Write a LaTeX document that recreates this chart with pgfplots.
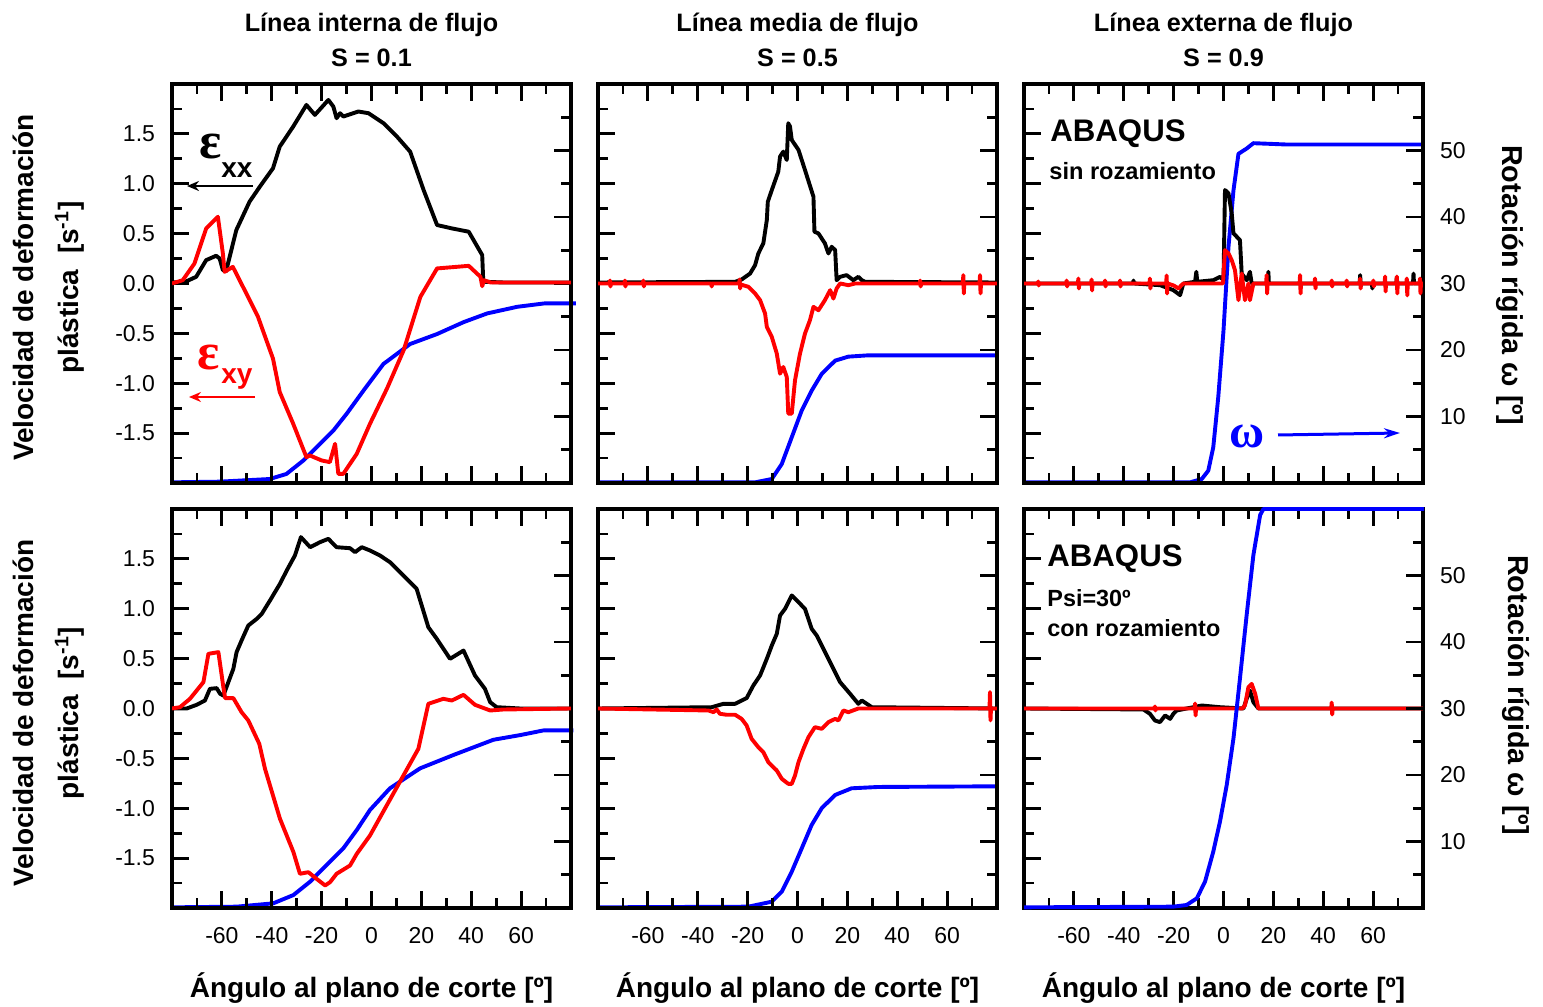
\documentclass[border=0pt]{standalone}
\usepackage{fontspec}
\setmainfont{Liberation Sans}
\newfontfamily\serifgreek{Liberation Serif}
\usepackage{pgfplots}
\pgfplotsset{compat=1.18}
\usetikzlibrary{arrows.meta}
\newcommand\tickfont{\fontsize{11.5}{12}\selectfont}
\pgfplotsset{
  panel/.style={scale only axis, width=199.5pt, height=199.5pt, anchor=south west,
    xmin=-80, xmax=80, tick align=inside,
    major tick length=8.5pt, minor tick length=5pt,
    every tick/.style={line width=1.4pt, black},
    every minor tick/.style={line width=1.4pt, black},
    axis line style={line width=1.7pt},
    tick label style={font=\tickfont},
    /pgf/number format/assume math mode=true},
  mainax/.style={panel, ymin=-2, ymax=2,
    xtick={-60,-40,-20,0,20,40,60}, minor xtick={-70,-50,-30,-10,10,30,50,70},
    ytick={-1.5,-1,-0.5,0,0.5,1,1.5}, minor ytick={-1.75,-1.25,-0.75,-0.25,0.25,0.75,1.25,1.75},
    xtick pos=both, ytick pos=left,
    xticklabel style={yshift=-6pt},
    yticklabel style={xshift=-5pt, /pgf/number format/.cd, fixed, fixed zerofill, precision=1}},
  omegaax/.style={panel, ymin=0, ymax=60, clip=false,
    xtick=\empty, ytick={10,20,30,40,50}, minor ytick={5,15,25,35,45,55},
    ytick pos=right, axis line style={draw=none},
    yticklabel style={xshift=5pt}},
  bl/.style={black, line width=1.95pt, line join=round},
  rl/.style={red, line width=1.95pt, line join=round},
  wl/.style={blue, line width=1.95pt, line join=round},
}
\begin{document}
\begin{tikzpicture}[x=1pt,y=1pt]
\path[use as bounding box] (0,0) rectangle (771.5,503.5);

% ================= TOP LEFT =================
\begin{axis}[omegaax, at={(86pt,262pt)}, yticklabels={}]
\addplot[wl] coordinates {(-80,0.1) (-60.9,0.2) (-40.8,0.6) (-34.1,1.36) (-27.4,3.36) (-20.7,5.87) (-15.3,7.88) (-10.0,10.39) (-3.2,13.9) (4.8,17.9) (15.5,20.9) (26.3,22.4) (37.0,24.2) (46.4,25.5) (58.5,26.5) (69.2,27.0) (82,27.0)};
\end{axis}
\begin{axis}[mainax, at={(86pt,262pt)}, xticklabels={}]
\addplot[bl] coordinates {(-80,0.01) (-74.4,0.02) (-70.3,0.067) (-66.3,0.234) (-62.3,0.278) (-60.9,0.251) (-59.6,0.134) (-58.3,0.124) (-56.2,0.335) (-54.2,0.536) (-48.9,0.82) (-44.8,0.97) (-39.5,1.155) (-36.8,1.372) (-31.4,1.573) (-26.1,1.79) (-22.7,1.69) (-17.3,1.84) (-15.3,1.774) (-14.0,1.657) (-12.6,1.707) (-11.3,1.674) (-5.3,1.724) (-1.2,1.707) (4.8,1.607) (10.2,1.473) (15.5,1.322) (20.9,0.937) (26.3,0.586) (32.3,0.552) (39.0,0.519) (44.4,0.285) (44.8,0.033) (45.7,0.017) (53.1,0.01) (80,0.01)};
\addplot[rl] coordinates {(-80,0) (-75.7,0.033) (-71.0,0.2) (-66.3,0.552) (-61.6,0.669) (-59.6,0.301) (-58.9,0.117) (-55.6,0.167) (-49.5,-0.134) (-45.5,-0.335) (-39.5,-0.753) (-36.8,-1.088) (-31.4,-1.406) (-26.1,-1.741) (-24.7,-1.724) (-20.0,-1.774) (-16.7,-1.791) (-14.6,-1.607) (-13.3,-1.908) (-11.3,-1.908) (-5.9,-1.707) (-0.6,-1.406) (6.2,-1.054) (12.9,-0.669) (19.6,-0.134) (26.3,0.151) (39.0,0.177) (43.7,0.067) (44.4,-0.027) (45.1,0.033) (47.8,0.01) (80,0.01)};
\end{axis}

% ================= TOP MIDDLE =================
\begin{axis}[omegaax, at={(299pt,262pt)}, yticklabels={}]
\addplot[wl] coordinates {(-80,0.1) (-17.0,0.1) (-10.3,0.6) (-6.3,2.86) (-2.3,6.88) (1.7,10.9) (5.7,13.9) (9.7,16.4) (15.1,18.4) (20.4,19.0) (28.4,19.2) (80.6,19.2)};
\end{axis}
\begin{axis}[mainax, at={(299pt,262pt)}, yticklabels={}, xticklabels={}]
\addplot[bl] coordinates {(-80,0.01) (-25.0,0.017) (-22.4,0.04) (-19.0,0.1) (-17.0,0.184) (-15.7,0.301) (-13.7,0.402) (-12.3,0.636) (-11.9,0.82) (-10.3,0.937) (-7.7,1.121) (-7.0,1.272) (-5.7,1.322) (-4.3,1.238) (-3.7,1.607) (-3.0,1.573) (-2.3,1.439) (0.4,1.339) (3.0,1.138) (6.4,0.87) (6.8,0.519) (8.4,0.502) (11.0,0.402) (12.4,0.301) (13.7,0.368) (15.1,0.335) (15.7,0.033) (17.1,0.067) (19.7,0.084) (22.4,0.033) (24.4,0.067) (25.8,0.033) (27.1,0.017) (80,0.01)};
\addplot[rl] coordinates {(-80,0) (-75.4,0) (-75.2,0.03) (-75.0,-0.03) (-74.8,0) (-69.4,0) (-69.2,0.03) (-69.0,-0.03) (-68.8,0) (-62,0) (-61.8,0.03) (-61.6,-0.03) (-61.4,0) (-34.6,0) (-34.4,-0.03) (-34.2,0) (-23.4,0) (-23.2,0.04) (-23.0,-0.05) (-22.8,-0.01) (-19.7,-0.033) (-17.0,-0.1) (-15.0,-0.167) (-13.0,-0.301) (-12.3,-0.435) (-10.3,-0.536) (-8.3,-0.703) (-7.0,-0.904) (-5.7,-0.837) (-4.3,-0.937) (-3.7,-1.305) (-2.3,-1.305) (-1.0,-0.971) (1.0,-0.703) (3.0,-0.502) (5.0,-0.368) (6.4,-0.234) (8.4,-0.268) (11.0,-0.167) (13.1,-0.067) (14.4,-0.151) (15.7,-0.05) (17.1,0) (20.4,-0.017) (23.1,0) (49.0,0) (49.2,0.03) (49.4,-0.03) (49.6,0) (66.3,0) (66.5,0.084) (66.7,-0.1) (66.9,0) (73.0,0) (73.2,0.084) (73.4,-0.1) (73.6,0) (80,0)};
\end{axis}

% ================= TOP RIGHT =================
\begin{axis}[omegaax, at={(512pt,262pt)}]
\addplot[wl] coordinates {(-80,0.1) (-13.4,0.1) (-8.7,0.6) (-6.1,1.86) (-4.1,5.37) (-2.1,12.9) (0.0,22.9) (2.0,35.5) (4.0,44.0) (6.0,49.5) (9.3,50.3) (12.0,51.1) (25.4,50.9) (80.8,50.9)};
\end{axis}
\begin{axis}[mainax, at={(512pt,262pt)}, yticklabels={}, xticklabels={}]
\addplot[bl] coordinates {(-80,0) (-36.3,0) (-36.1,0.03) (-35.9,0) (-25.4,-0.017) (-20.1,-0.067) (-17.4,-0.117) (-16.1,0) (-11.4,0.017) (-10.9,0.117) (-10.5,0.017) (-4.1,0.033) (-1.4,0.067) (0.0,0.033) (0.6,0.937) (2.0,0.904) (3.3,0.703) (4.0,0.502) (5.3,0.469) (6.6,0.435) (7.3,0.1) (9.3,0.033) (10.6,0.117) (11.3,0) (17.8,0) (18.0,0.117) (18.2,0) (54.6,0) (54.8,0.084) (55.0,0) (59.5,0) (59.7,-0.05) (59.9,0) (69.3,0) (69.5,0.06) (69.7,0) (76.0,0) (76.2,0.1) (76.4,0) (80,0)};
\addplot[rl] coordinates {(-80,0) (-74.5,0) (-74.3,0.02) (-74.1,-0.02) (-73.9,0) (-63.1,0) (-62.9,0.03) (-62.7,-0.03) (-62.5,0) (-58.4,0) (-58.2,0.05) (-58.0,-0.05) (-57.8,0) (-53.1,0) (-52.9,0.04) (-52.7,-0.07) (-52.5,0) (-47.7,0) (-47.5,0.03) (-47.3,-0.03) (-47.1,0) (-41.7,0) (-41.5,0.03) (-41.3,-0.03) (-41.1,0) (-29.7,0) (-29.5,0.05) (-29.3,-0.05) (-29.1,0) (-23.0,0) (-22.8,0.08) (-22.6,-0.1) (-22.4,0) (-20,-0.02) (-18,-0.05) (-17,-0.02) (-16,0) (-0.2,0) (0.6,0.335) (2.0,0.301) (3.3,0.234) (4.6,0.134) (6.0,-0.167) (7.3,0.1) (8.6,-0.167) (10.0,0) (10.6,-0.167) (12.0,0) (17.1,0) (17.3,0.084) (17.5,-0.1) (17.7,0) (30.5,0) (30.7,0.084) (30.9,-0.1) (31.1,0) (36.5,0) (36.7,0.05) (36.9,-0.05) (37.1,0) (43.2,0) (43.4,0.03) (43.6,-0.03) (43.8,0) (49.2,0) (49.4,0.03) (49.6,-0.03) (49.8,0) (54.6,0) (54.8,0.05) (55.0,-0.05) (55.2,0) (59.9,0) (60.1,0.03) (60.3,-0.03) (60.5,0) (64.6,0) (64.8,0.07) (65.0,-0.08) (65.2,0) (69.3,0) (69.5,0.07) (69.7,-0.1) (69.9,0) (73.3,0) (73.5,0.05) (73.7,-0.12) (73.9,0) (78.6,0) (78.8,0.05) (79.0,-0.1) (79.2,0) (80,0)};
\end{axis}

% ================= BOTTOM LEFT =================
\begin{axis}[omegaax, at={(86pt,49.5pt)}, yticklabels={}]
\addplot[wl] coordinates {(-80,0.1) (-54.1,0.2) (-39.4,0.7) (-31.3,1.95) (-24.6,3.96) (-18.0,6.47) (-11.3,8.97) (-5.9,11.73) (-0.6,14.74) (7.4,18.0) (19.5,21.0) (32.8,23.0) (48.9,25.3) (59.6,26.0) (68.9,26.7) (81,26.7)};
\end{axis}
\begin{axis}[mainax, at={(86pt,49.5pt)}]
\addplot[bl] coordinates {(-80,0) (-74.1,0) (-70.1,0.037) (-66.8,0.08) (-64.8,0.197) (-62.1,0.204) (-60.7,0.147) (-59.4,0.13) (-57.4,0.264) (-55.4,0.398) (-54.1,0.565) (-52.1,0.682) (-49.4,0.832) (-46.0,0.899) (-44.0,0.949) (-40.7,1.083) (-36.7,1.25) (-34.0,1.383) (-30.7,1.534) (-28.3,1.718) (-24.6,1.617) (-20.6,1.668) (-17.3,1.701) (-14.0,1.617) (-8.6,1.607) (-6.6,1.567) (-3.9,1.617) (-0.6,1.584) (3.4,1.534) (7.4,1.467) (12.8,1.333) (18.1,1.2) (22.8,0.815) (26.2,0.698) (31.5,0.498) (36.9,0.581) (41.5,0.331) (45.5,0.197) (47.6,0.063) (50.2,0.013) (59.6,0) (80,0)};
\addplot[rl] coordinates {(-80,0) (-76.8,0.013) (-72.8,0.097) (-67.4,0.264) (-65.4,0.548) (-61.4,0.565) (-59.4,0.214) (-58.7,0.104) (-55.4,0.104) (-52.1,-0.037) (-49.4,-0.12) (-45.0,-0.354) (-42.7,-0.605) (-36.7,-1.106) (-31.3,-1.44) (-28.7,-1.657) (-25.3,-1.641) (-22.0,-1.708) (-18.6,-1.774) (-16.6,-1.741) (-14.0,-1.657) (-8.6,-1.574) (-5.9,-1.457) (-0.6,-1.273) (6.1,-0.972) (12.8,-0.672) (18.8,-0.404) (22.8,0.047) (28.8,0.097) (32.2,0.08) (36.9,0.137) (41.5,0.037) (47.6,-0.02) (52.9,-0.01) (80,0)};
\end{axis}

% ================= BOTTOM MIDDLE =================
\begin{axis}[omegaax, at={(299pt,49.5pt)}, yticklabels={}]
\addplot[wl] coordinates {(-80,0.1) (-19.7,0.2) (-10.3,0.95) (-6.3,2.46) (-2.3,5.46) (1.7,8.97) (5.7,12.5) (9.7,15.0) (15.1,17.0) (21.7,18.0) (32.4,18.2) (80.6,18.3)};
\end{axis}
\begin{axis}[mainax, at={(299pt,49.5pt)}, yticklabels={}]
\addplot[bl] coordinates {(-80,0) (-34.4,0.013) (-29.7,0.047) (-25.0,0.047) (-22.4,0.08) (-20.4,0.104) (-17.7,0.231) (-15.0,0.331) (-12.3,0.498) (-10.3,0.632) (-8.3,0.749) (-7.0,0.932) (-5.0,0.999) (-2.3,1.133) (0.4,1.066) (3.0,0.999) (5.7,0.799) (7.7,0.732) (12.4,0.498) (17.1,0.264) (21.1,0.147) (24.4,0.047) (25.8,0.08) (27.8,0.047) (29.8,0.013) (80,0)};
\addplot[rl] coordinates {(-80,0) (-35.7,-0.02) (-33.7,-0.037) (-32.4,-0.01) (-31.1,-0.053) (-28.4,-0.063) (-25.0,-0.063) (-22.4,-0.104) (-20.4,-0.17) (-18.4,-0.304) (-15.7,-0.388) (-13.7,-0.438) (-11.7,-0.538) (-8.3,-0.622) (-6.3,-0.705) (-3.7,-0.755) (-2.3,-0.755) (-1.0,-0.672) (0.4,-0.538) (2.4,-0.404) (4.4,-0.287) (7.0,-0.187) (9.7,-0.204) (12.4,-0.137) (15.1,-0.104) (16.4,-0.12) (18.4,-0.02) (20.4,-0.037) (24.4,0) (77.0,0) (77.2,0.164) (77.4,-0.12) (77.6,0) (80,0)};
\end{axis}

% ================= BOTTOM RIGHT =================
\begin{axis}[mainax, at={(512pt,49.5pt)}, yticklabels={}]
\addplot[bl] coordinates {(-80,0) (-32.1,-0.01) (-29.5,-0.053) (-27.5,-0.12) (-25.5,-0.137) (-23.4,-0.07) (-21.4,-0.104) (-20.1,-0.053) (-18.8,-0.02) (-8.7,0.03) (-1.4,0.013) (8.0,0) (9.3,0.097) (10.6,0.18) (12.0,0.063) (14.0,0) (80,0)};
\addplot[rl] coordinates {(-80,0) (-27.7,0) (-27.5,0.02) (-27.3,-0.02) (-27.1,0) (-11.6,0) (-11.4,0.05) (-11.2,-0.07) (-11.0,0) (7.5,0) (8.6,0.03) (10.0,0.214) (11.3,0.247) (12.7,0.147) (14.0,0) (43.2,0) (43.4,0.06) (43.6,-0.06) (43.8,0) (80,0)};
\end{axis}
\begin{axis}[omegaax, at={(512pt,49.5pt)}]
\addplot[wl] coordinates {(-80,0.1) (-20.1,0.2) (-14.8,0.45) (-10.7,1.45) (-7.4,3.96) (-4.1,8.47) (-1.4,13.0) (1.3,18.5) (4.0,25.5) (6.6,34.5) (9.3,44.1) (12.0,53.1) (14.7,59.1) (16.0,60) (80.5,60)};
\end{axis}

% ================= TEXT =================
\begin{scope}[every node/.style={inner sep=0pt}]
\foreach \cx/\ta/\tb in {185.75/Línea interna de flujo/S = 0.1, 398.75/Línea media de flujo/S = 0.5, 611.75/Línea externa de flujo/S = 0.9}{
  \node[anchor=base, font=\fontsize{12.6}{14}\selectfont\bfseries] at (\cx,487.6) {\ta};
  \node[anchor=base, font=\fontsize{12.6}{14}\selectfont\bfseries] at (\cx,470.2) {\tb};
  \node[anchor=base, font=\fontsize{14}{16}\selectfont\bfseries] at (\cx,4.5) {Ángulo al plano de corte [º]};
}
% left y labels
\foreach \cy in {359.75, 147}{
  \node[rotate=90, align=center, font=\fontsize{14}{22.5}\selectfont\bfseries] at (24.5,\cy) {Velocidad de deformación\\plástica~~[s\textsuperscript{-1}]};
}
% right y labels
\node[rotate=-90, font=\fontsize{14.4}{16}\selectfont\bfseries] at (755,361) {Rotación rígida ω [º]};
\node[rotate=-90, font=\fontsize{14.4}{16}\selectfont\bfseries] at (758,156) {Rotación rígida ω [º]};

% epsilon labels
\node[font=\serifgreek\fontsize{26}{26}\selectfont\bfseries] at (105.5,430) {ε};
\node[font=\fontsize{14}{14}\selectfont\bfseries] at (118.5,418.5) {xx};
\draw[-{Stealth[length=6pt,width=5pt]}, line width=1.4pt] (126.5,410.5) -- (93.5,410.5);
\node[font=\serifgreek\fontsize{26}{26}\selectfont\bfseries, red] at (104.5,324.5) {ε};
\node[font=\fontsize{14}{14}\selectfont\bfseries, red] at (118.5,314) {xy};
\draw[red, -{Stealth[length=6pt,width=5pt]}, line width=1.4pt] (127.5,305) -- (94.5,305);

% omega label
\node[font=\serifgreek\fontsize{24}{24}\selectfont\bfseries, blue] at (623.5,285.5) {ω};
\draw[blue, -{Stealth[length=8pt,width=5pt]}, line width=1.5pt] (639,286) -- (700,287);

% ABAQUS
\node[anchor=base west, font=\fontsize{15.6}{16}\selectfont\bfseries] at (525,432.6) {ABAQUS};
\node[anchor=base west, font=\fontsize{11.8}{12}\selectfont\bfseries] at (524.5,413.5) {sin rozamiento};
\node[anchor=base west, font=\fontsize{15.6}{16}\selectfont\bfseries] at (523.5,220.2) {ABAQUS};
\node[anchor=base west, font=\fontsize{11.7}{12}\selectfont\bfseries] at (523.5,200.2) {Psi=30º};
\node[anchor=base west, font=\fontsize{11.7}{12}\selectfont\bfseries] at (523.5,185) {con rozamiento};
\end{scope}
\end{tikzpicture}
\end{document}
